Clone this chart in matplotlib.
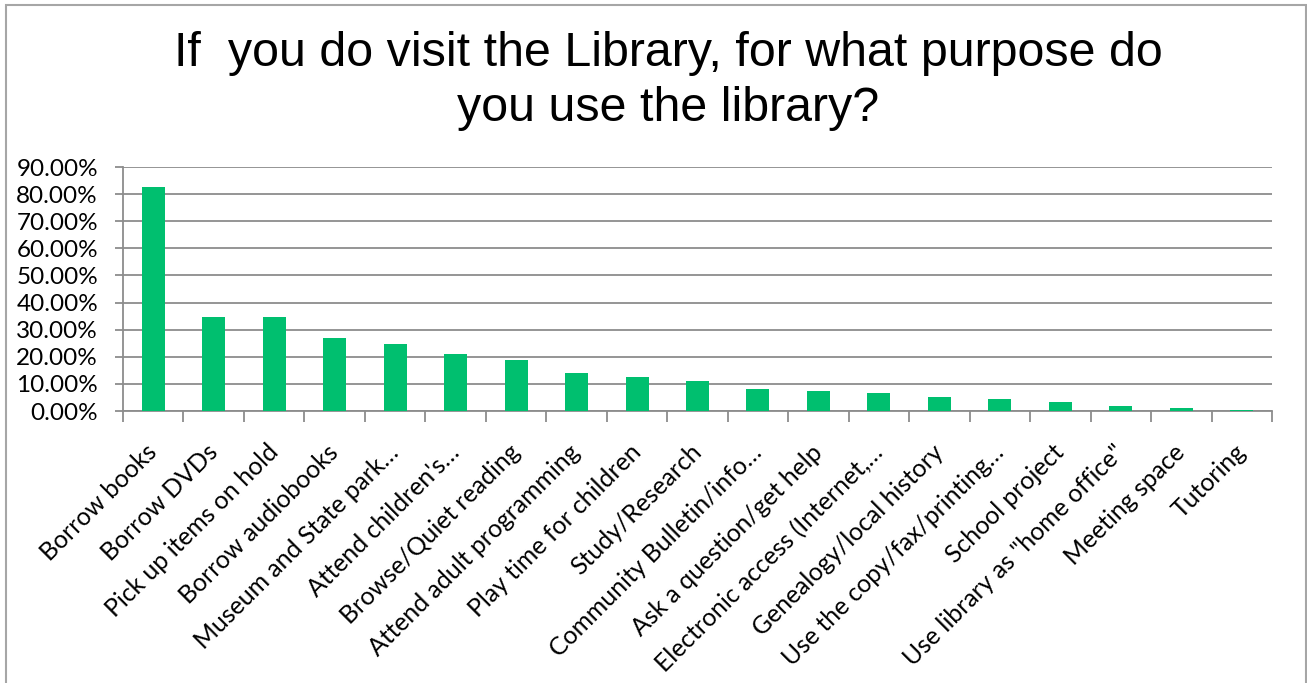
import numpy as np
import matplotlib.pyplot as plt
from matplotlib.patches import Rectangle
from matplotlib.ticker import PercentFormatter, FixedLocator

# Survey answers, share of respondents
purposes = [
    "Borrow books", "Borrow DVDs", "Pick up items on hold", "Borrow audiobooks",
    "Museum and State park\u2026", "Attend children's\u2026", "Browse/Quiet reading",
    "Attend adult programming", "Play time for children", "Study/Research",
    "Community Bulletin/info\u2026", "Ask a question/get help", "Electronic access (Internet,\u2026",
    "Genealogy/local history", "Use the copy/fax/printing\u2026", "School project",
    'Use library as "home office"', "Meeting space", "Tutoring",
]
shares = [82.7, 34.7, 34.7, 27.0, 24.7, 20.9, 18.7, 14.0, 12.5, 11.2,
          8.1, 7.3, 6.5, 5.1, 4.3, 3.4, 2.0, 1.2, 0.4]

W, H = 1307, 683
fig = plt.figure(figsize=(W / 100, H / 100), dpi=100)
ax = fig.add_axes([123 / W, 1 - 411 / H, (1272 - 123) / W, (411 - 167) / H])

x = np.arange(len(purposes))
ax.bar(x, shares, width=0.38, color="#00bf6f", zorder=3)

grid_col = "#8c8c8c"
ax.set_xlim(-0.5, len(purposes) - 0.5)
ax.set_ylim(0, 90)
ax.set_yticks(np.arange(0, 91, 10))
ax.yaxis.set_major_formatter(PercentFormatter(decimals=2))
ax.grid(axis="y", color=grid_col, lw=1.3, zorder=0)

for side in ("top", "right"):
    ax.spines[side].set_visible(False)
for side in ("left", "bottom"):
    ax.spines[side].set_color(grid_col)
    ax.spines[side].set_linewidth(1.3)

ax.tick_params(axis="y", length=6, width=1.3, color=grid_col, pad=12,
               labelsize=17.5, labelcolor="#000000")
ax.set_xticks(x)
ax.set_xticklabels(purposes, rotation=45, ha="right", va="center",
                   rotation_mode="anchor", fontsize=17.8)
ax.tick_params(axis="x", which="major", length=0, pad=27)
ax.xaxis.set_minor_locator(FixedLocator(np.arange(-0.5, len(purposes), 1.0)))
ax.tick_params(axis="x", which="minor", length=8, width=1.3, color=grid_col)
for lab in ax.get_xticklabels() + ax.get_yticklabels():
    lab.set_family(["Lato", "DejaVu Sans"])

fig.text(0.511, 1 - 121 / H, "If  you do visit the Library, for what purpose do\nyou use the library?",
         ha="center", va="baseline", fontsize=34.8, family="Liberation Sans",
         linespacing=1.28, multialignment="center")

# chart border
fig.add_artist(Rectangle((6 / W, -0.05), (1306 - 6) / W, 1.05 - 5 / H,
                         transform=fig.transFigure, fill=False,
                         edgecolor="#a6a6a6", lw=1.5))

fig.savefig("out.png", dpi=100)
